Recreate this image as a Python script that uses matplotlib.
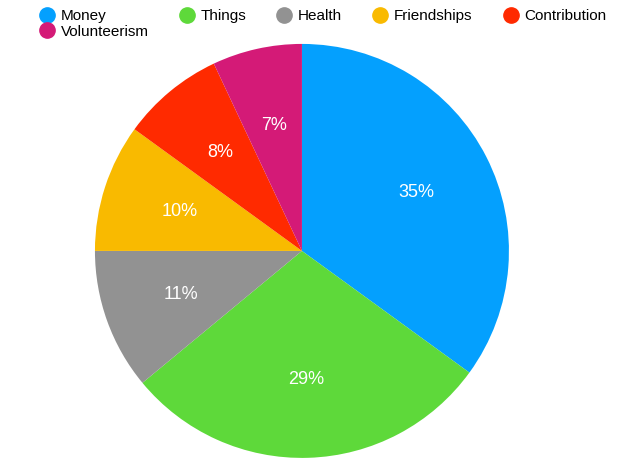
import matplotlib
matplotlib.use("Agg")
import matplotlib.pyplot as plt
from matplotlib.lines import Line2D

plt.rcParams["font.family"] = ["Liberation Sans", "DejaVu Sans"]

labels = ["Money", "Things", "Health", "Friendships", "Contribution", "Volunteerism"]
values = [35, 29, 11, 10, 8, 7]
colors = ["#04a0fe", "#5ed93a", "#929292", "#f9ba00", "#ff2a00", "#d41a77"]

fig = plt.figure(figsize=(6.33, 4.69), dpi=100)
ax = fig.add_axes([0.150, 0.0235, 0.654, 0.883])
ax.pie(values, colors=colors, startangle=90, counterclock=False,
       autopct="%d%%", pctdistance=0.62,
       textprops=dict(color="white", fontsize=13))
ax.set_xlim(-1, 1)
ax.set_ylim(-1, 1)
ax.set_aspect("equal")

order = [0, 5, 1, 2, 3, 4]
handles = [Line2D([], [], marker="o", linestyle="", markersize=11,
                  color=colors[i]) for i in order]
fig.legend(handles, [labels[i] for i in order], ncol=5, frameon=False,
           loc="upper left", bbox_to_anchor=(0.04, 1.01), fontsize=11,
           handletextpad=0.4, columnspacing=2.0, labelspacing=0.1,
           handlelength=1.0)
fig.savefig("out.png")
